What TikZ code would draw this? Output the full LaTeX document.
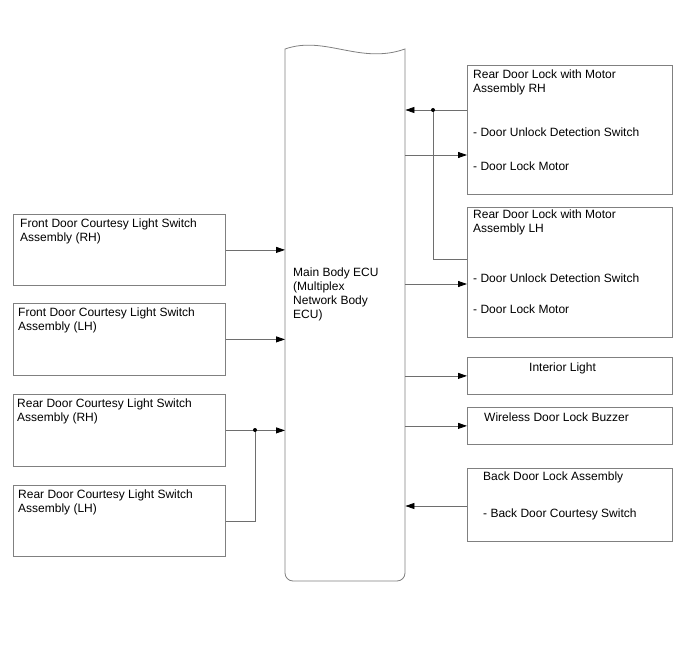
\documentclass[tikz,border=0pt]{standalone}
\usepackage{fontspec}
\setmainfont{Liberation Sans}
\usetikzlibrary{arrows.meta,calc}
\definecolor{linegray}{RGB}{128,128,128}
\definecolor{conngray}{RGB}{110,110,110}
\begin{document}
\begin{tikzpicture}[x=1pt,y=-1pt,
  box/.style={draw=linegray, line width=0.8pt, anchor=north west, inner sep=0pt},
  txt/.style={anchor=base west, align=left, inner sep=0pt, font=\fontsize{12}{14}\selectfont},
  conn/.style={draw=conngray, line width=0.8pt},
  arr/.style={-{Triangle[length=9pt,width=6pt,fill=black,color=black]}},
  dot/.style={fill=black}]
\useasboundingbox (0,0) rectangle (688,658);

% Main Body ECU
\node[inner sep=0pt, minimum width=120pt, minimum height=532pt, anchor=north west] (ecu) at (285,49) {};
\draw[draw=linegray, line width=0.8pt] (285,49) .. controls (325,35) and (360,65) .. (405,49)
  -- (405,573) arc[start angle=0, end angle=90, radius=8]
  -- (293,581) arc[start angle=90, end angle=180, radius=8] -- cycle;
\node[txt] (ecut) at (293,318) {Main Body ECU\\(Multiplex\\Network Body\\ECU)};

% Left boxes
\node[box, minimum width=212pt, minimum height=71pt] (frh) at (13,214) {};
\node[txt] (frht) at (20,241) {Front Door Courtesy Light Switch\\Assembly (RH)};
\node[box, minimum width=212pt, minimum height=72pt] (flh) at (13,303) {};
\node[txt] (flht) at (18,330) {Front Door Courtesy Light Switch\\Assembly (LH)};
\node[box, minimum width=212pt, minimum height=72pt] (rrh) at (13,394) {};
\node[txt] (rrht) at (17,421) {Rear Door Courtesy Light Switch\\Assembly (RH)};
\node[box, minimum width=212pt, minimum height=71pt] (rlh) at (13,485) {};
\node[txt] (rlht) at (18,512) {Rear Door Courtesy Light Switch\\Assembly (LH)};

% Right boxes
\node[box, minimum width=205pt, minimum height=129pt] (rh) at (467,65) {};
\node[txt] (rht1) at (473,93) {Rear Door Lock with Motor\\Assembly RH};
\node[txt] (rht2) at (473,136) {- Door Unlock Detection Switch};
\node[txt] (rht3) at (473,170) {- Door Lock Motor};

\node[box, minimum width=205pt, minimum height=130pt] (lh) at (467,207) {};
\node[txt] (lht1) at (473,232) {Rear Door Lock with Motor\\Assembly LH};
\node[txt] (lht2) at (473,282) {- Door Unlock Detection Switch};
\node[txt] (lht3) at (473,313) {- Door Lock Motor};

\node[box, minimum width=205pt, minimum height=37pt] (il) at (467,357) {};
\node[txt] (ilt) at (529,371) {Interior Light};

\node[box, minimum width=205pt, minimum height=37pt] (wl) at (467,407) {};
\node[txt] (wlt) at (484,421) {Wireless Door Lock Buzzer};

\node[box, minimum width=205pt, minimum height=73pt] (bd) at (467,468) {};
\node[txt] (bdt1) at (483,480) {Back Door Lock Assembly};
\node[txt] (bdt2) at (483,517) {- Back Door Courtesy Switch};

% Connectors left
\draw[conn, arr] (frh.east) -- (frh.east -| ecu.west);
\draw[conn, arr] (flh.east) -- (flh.east -| ecu.west);
\coordinate (j2) at (255,430);
\draw[conn, arr] (rrh.east) -- (rrh.east -| ecu.west);
\draw[conn] (rlh.east) -| (j2);
\fill[dot] (j2) circle (2pt);

% Connectors right
\coordinate (j1) at (433,110);
\draw[conn, arr] (rh.west |- j1) -- (j1 -| ecu.east);
\draw[conn] (j1) |- ($(lh.north west)+(0,52)$);
\fill[dot] (j1) circle (2pt);
\draw[conn, arr] (ecu.east |- 0,155) -- (rh.west |- 0,155);
\draw[conn, arr] (ecu.east |- 0,284) -- (lh.west |- 0,284);
\draw[conn, arr] (ecu.east |- il.west) -- (il.west);
\draw[conn, arr] (ecu.east |- wl.west) -- (wl.west);
\draw[conn, arr] (bd.west |- 0,506) -- (ecu.east |- 0,506);
\end{tikzpicture}
\end{document}
